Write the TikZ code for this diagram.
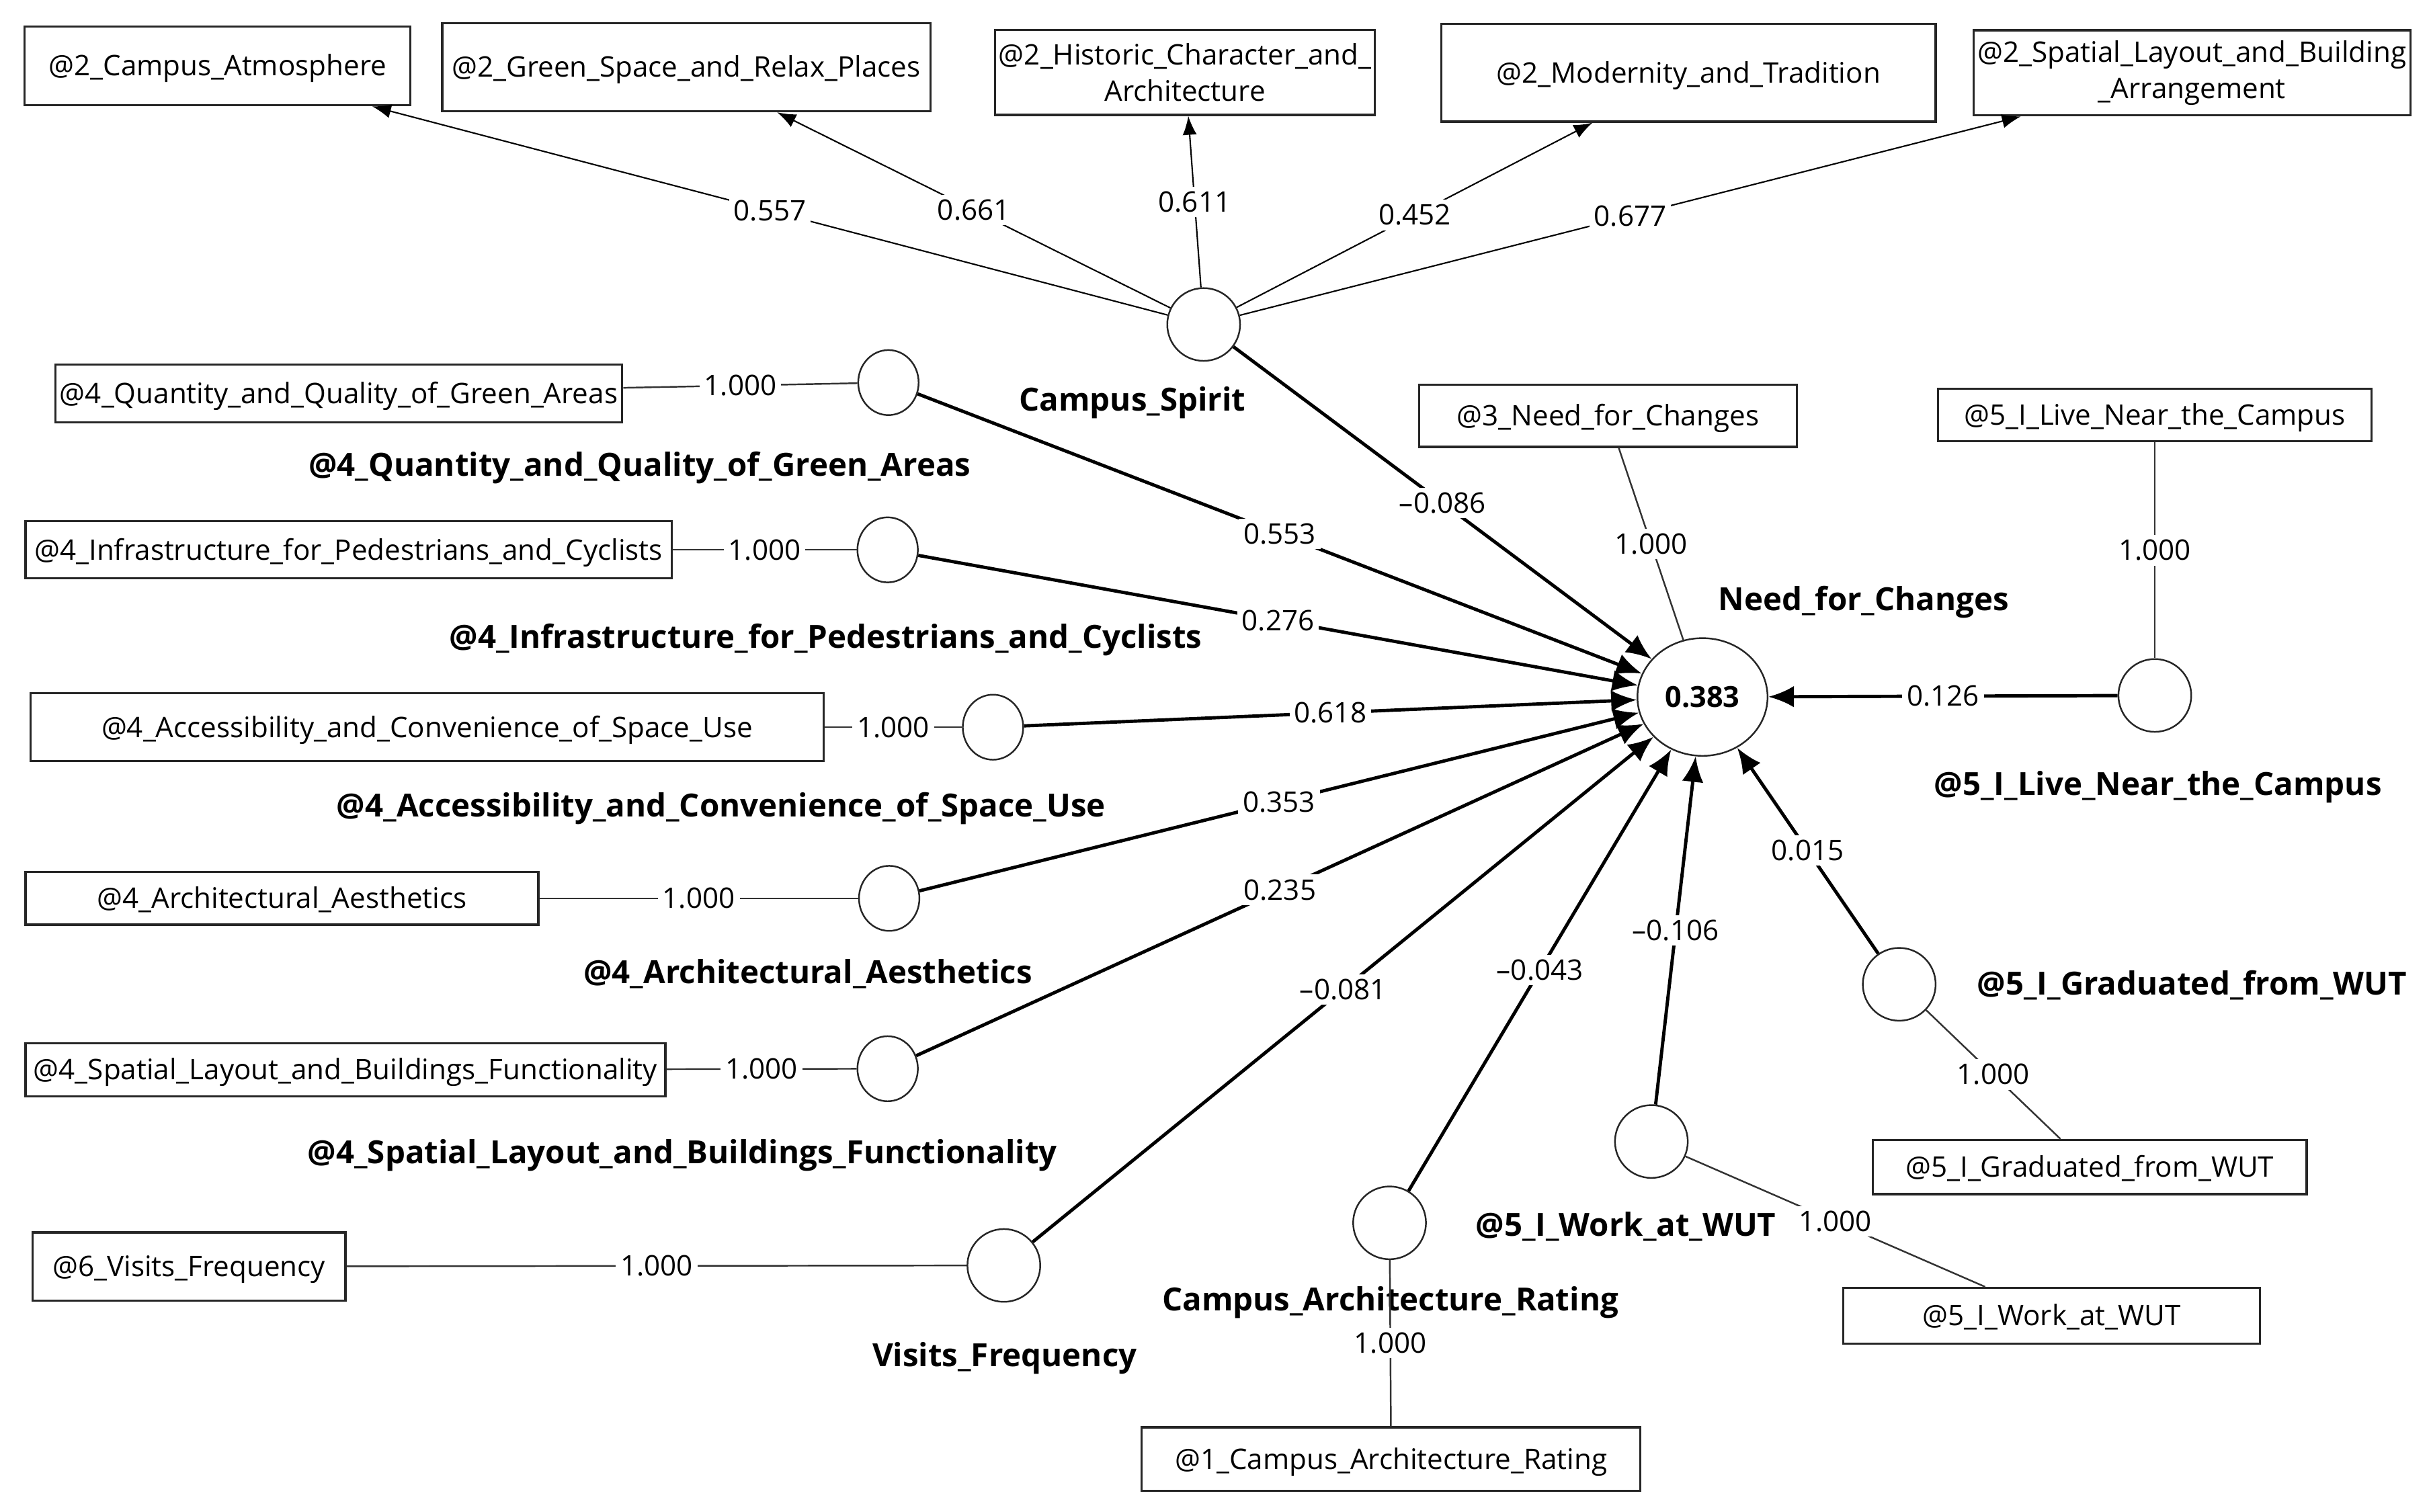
\documentclass[tikz,border=0pt]{standalone}
\usepackage{fontspec}
\setmainfont{Open Sans}
\usetikzlibrary{arrows.meta,shapes.geometric}
\def\dpx{0.02305cm}

\begin{document}
\begin{tikzpicture}[x=0.02305cm,y=-0.02305cm,
  indbox/.style={draw=black!85, line width=0.9pt, rectangle, inner sep=0pt, align=center,
    font=\fontsize{12}{15.5}\selectfont},
  indone/.style={indbox, text height=10.5pt, text depth=2pt},
  bsize/.style 2 args={minimum width=#1*\dpx, minimum height=#2*\dpx},
  lv/.style={draw=black!85, line width=0.7pt, ellipse, inner sep=0pt, fill=white,
    minimum width=39*\dpx, minimum height=42*\dpx},
  lvbig/.style={lv, minimum width=47*\dpx, minimum height=47*\dpx},
  lvname/.style={yshift=-0.045cm, font=\bfseries\fontsize{13.5}{16}\selectfont},
  coef/.style={fill=white, inner sep=2pt, font=\fontsize{12}{14}\selectfont},
  loading/.style={draw=black!80, line width=0.7pt},
  reflective/.style={draw=black, line width=0.6pt, -{Latex[length=0.28cm,width=0.21cm]}},
  structural/.style={draw=black, line width=1.4pt, -{Latex[length=0.38cm,width=0.32cm]}},
]
\useasboundingbox (0,0) rectangle (1568,976);

% Campus_Spirit and its indicators
\node[indone, bsize={249}{51}] (atm) at (140.5,42.5) {@2\_Campus\_Atmosphere};
\node[indone, bsize={315}{57}] (green) at (443,43.3) {@2\_Green\_Space\_and\_Relax\_Places};
\node[indbox, bsize={245}{55}] (hist) at (765,46.7) {@2\_Historic\_Character\_and\_\\Architecture};
\node[indone, bsize={319}{63}] (modern) at (1090,47) {@2\_Modernity\_and\_Tradition};
\node[indbox, bsize={282}{55}] (layout) at (1415,47) {@2\_Spatial\_Layout\_and\_Building\\\_Arrangement};
\node[lvbig] (spirit) at (777,209.5) {};
\node[lvname] (spiritname) at (731,258) {Campus\_Spirit};
\foreach \t/\v in {atm/0.557, green/0.661, hist/0.611, modern/0.452, layout/0.677}
  \draw[reflective] (spirit) -- node[coef] {\v} (\t);

% single indicator constructs on the left
\node[indone, bsize={366}{37}] (greenbox) at (218.7,254) {@4\_Quantity\_and\_Quality\_of\_Green\_Areas};
\node[lv] (greenlv) at (573.5,247) {};
\node[lvname] (greenname) at (413,300) {@4\_Quantity\_and\_Quality\_of\_Green\_Areas};

\node[indone, bsize={417}{37}] (infrabox) at (225,355) {@4\_Infrastructure\_for\_Pedestrians\_and\_Cyclists};
\node[lv] (infra) at (573,355) {};
\node[lvname] (infraname) at (533,411) {@4\_Infrastructure\_for\_Pedestrians\_and\_Cyclists};

\node[indone, bsize={512}{44}] (accessbox) at (275.7,469.5) {@4\_Accessibility\_and\_Convenience\_of\_Space\_Use};
\node[lv] (access) at (641,469.5) {};
\node[lvname] (accessname) at (465.5,520) {@4\_Accessibility\_and\_Convenience\_of\_Space\_Use};

\node[indone, bsize={331}{34}] (aesthbox) at (182,580) {@4\_Architectural\_Aesthetics};
\node[lv] (aesth) at (574,580) {};
\node[lvname] (aesthname) at (521.5,627) {@4\_Architectural\_Aesthetics};

\node[indone, bsize={413}{34}] (spatialbox) at (223,690.7) {@4\_Spatial\_Layout\_and\_Buildings\_Functionality};
\node[lv] (spatial) at (573,690) {};
\node[lvname] (spatialname) at (440.5,744) {@4\_Spatial\_Layout\_and\_Buildings\_Functionality};

\node[indone, bsize={202}{44}] (visitsbox) at (122,817.7) {@6\_Visits\_Frequency};
\node[lvbig] (visits) at (648,817) {};
\node[lvname] (visitsname) at (648.5,875) {Visits\_Frequency};

\foreach \b/\c in {greenbox/greenlv, infrabox/infra, accessbox/access, aesthbox/aesth, spatialbox/spatial, visitsbox/visits}
  \draw[loading] (\b) -- node[coef] {1.000} (\c);

% bottom and right constructs
\node[indone, bsize={322}{41}] (archbox) at (898,942) {@1\_Campus\_Architecture\_Rating};
\node[lvbig] (archlv) at (897,789.5) {};
\node[lvname] (archname) at (897.5,839) {Campus\_Architecture\_Rating};

\node[indone, bsize={269}{36}] (workbox) at (1324.4,849.5) {@5\_I\_Work\_at\_WUT};
\node[lvbig] (work) at (1066,737) {};
\node[lvname] (workname) at (1049.5,790) {@5\_I\_Work\_at\_WUT};

\node[indone, bsize={280}{35}] (gradbox) at (1349,753.5) {@5\_I\_Graduated\_from\_WUT};
\node[lvbig] (grad) at (1226,635.5) {};
\node[lvname] (gradname) at (1415,634) {@5\_I\_Graduated\_from\_WUT};

\node[indone, bsize={280}{34}] (livebox) at (1391,268) {@5\_I\_Live\_Near\_the\_Campus};
\node[lvbig] (live) at (1391,449) {};
\node[lvname] (livename) at (1393,506) {@5\_I\_Live\_Near\_the\_Campus};

\foreach \b/\c in {archbox/archlv, workbox/work, gradbox/grad, livebox/live}
  \draw[loading] (\c) -- node[coef] {1.000} (\b);

% Need_for_Changes
\node[indone, bsize={244}{40}] (needbox) at (1038,268.5) {@3\_Need\_for\_Changes};
\node[lv, minimum width=84*\dpx, minimum height=76*\dpx, font=\bfseries\fontsize{12.3}{14}\selectfont] (need) at (1099,450) {0.383};
\node[lvname] (needname) at (1203,387) {Need\_for\_Changes};
\draw[loading] (needbox) -- node[coef] {1.000} (need);

\foreach \s/\v in {spirit/\textendash0.086, greenlv/0.553, infra/0.276, access/0.618, aesth/0.353,
    spatial/0.235, visits/\textendash0.081, archlv/\textendash0.043, work/\textendash0.106,
    grad/0.015, live/0.126}
  \draw[structural] (\s) -- node[coef] {\v} (need);

\end{tikzpicture}
\end{document}
